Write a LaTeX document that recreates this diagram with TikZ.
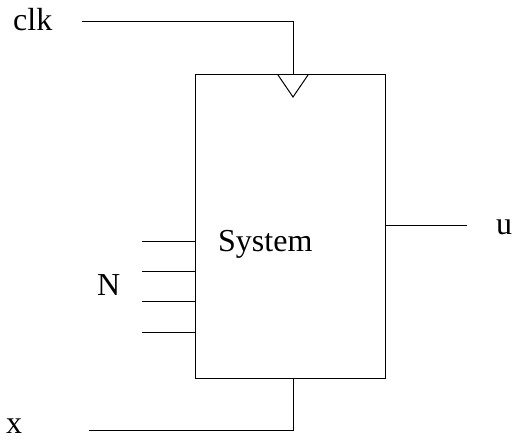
\documentclass[tikz,border=0pt]{standalone}
\usepackage{fontspec}
\setmainfont{Liberation Serif}
\begin{document}
\begin{tikzpicture}[x=1pt,y=-1pt,
  wire/.style={line width=1pt,black},
  lbl/.style={inner sep=0pt,anchor=base west,font=\fontsize{32}{38}\selectfont},
  sysbox/.style={draw,line width=1pt,minimum width=190pt,minimum height=303pt,inner sep=0pt}]
\useasboundingbox (0,0) rectangle (513,441);
\node[sysbox] (sys) at (290,226.5) {};
% labels
\node[lbl] (clk) at (13,31) {clk};
\node[lbl] (x) at (6,433) {x};
\node[lbl] (u) at (496,234) {u};
\node[lbl] (N) at (97,295) {N};
\node[lbl] (sl) at (218,251) {System};
% clock input
\coordinate (c0) at (82,21.5);
\coordinate (ct) at (293,75);
\draw[wire] (c0) -| (ct);
\coordinate (tl) at (278,75);
\coordinate (tr) at (308,75);
\coordinate (ta) at (293,97);
\draw[wire] (tl) -- (ta) -- (tr);
% x input
\coordinate (x0) at (89,430);
\coordinate (xb) at (293,378);
\draw[wire] (x0) -| (xb);
% output
\coordinate (o0) at (385,225);
\coordinate (o1) at (467,225);
\draw[wire] (o0) -- (o1);
% N inputs
\foreach \i/\yy in {1/241,2/271,3/301,4/332}{
  \coordinate (n\i a) at (142,\yy);
  \coordinate (n\i b) at (195,\yy);
  \draw[wire] (n\i a) -- (n\i b);
}
\end{tikzpicture}
\end{document}
